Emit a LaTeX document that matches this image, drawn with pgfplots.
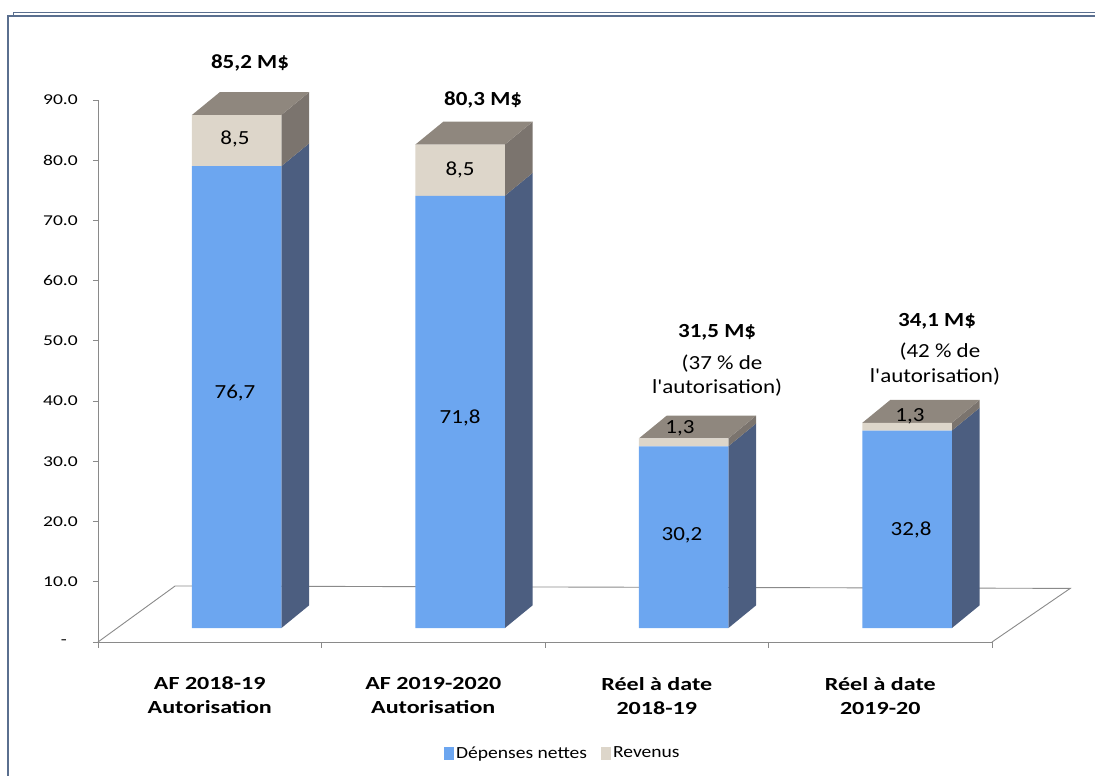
\documentclass[border=0pt]{standalone}
\usepackage{pgfplots}
\pgfplotsset{compat=1.18}
\usepackage{fontspec}
\setmainfont{Carlito}[FakeStretch=1.15]
\newfontfamily\widefont{Carlito}[FakeStretch=1.3]
\newfontfamily\quotefont{Carlito}[FakeStretch=1.15, Ligatures=ResetAll]
\definecolor{frontblue}{HTML}{6CA6F0}
\definecolor{sideblue}{HTML}{4C5E80}
\definecolor{frontbeige}{HTML}{DDD6CA}
\definecolor{sidebeige}{HTML}{7B746E}
\definecolor{topgray}{HTML}{8F877E}
\definecolor{framecol}{HTML}{5A6F8F}
\definecolor{axisgray}{HTML}{8A8A8A}
\newcommand{\vf}{\fontsize{20}{22}\selectfont}
\newcommand{\apos}{{\quotefont'}}
\begin{document}
\begin{tikzpicture}
\pgfplotsset{
  base/.style={
    at={(0pt,0pt)}, anchor=south west,
    scale only axis, width=894pt, height=542pt,
    xmin=0, xmax=4, ymin=0, ymax=90, clip=false,
  }
}
% axis 1: floor, axes, ticks, side and top faces
\begin{axis}[base,
  axis lines*=left,
  axis line style={axisgray, line width=0.9pt},
  tick align=outside,
  ytick={0,10,...,90},
  yticklabels={{-\hspace*{11pt}},10.0,20.0,30.0,40.0,50.0,60.0,70.0,80.0,90.0},
  major tick length=5pt, minor tick length=6pt,
  tick style={axisgray, line width=0.8pt},
  yticklabel style={font=\fontsize{15}{17}\selectfont\widefont, inner sep=0pt, xshift=-15pt},
  xtick={0.5,1.5,2.5,3.5},
  major x tick style={draw=none},
  minor xtick={0,1,2,3,4},
  xticklabels={{AF 2018-19\\Autorisation},{AF 2019-2020\\Autorisation},{Réel à date\\2018-19},{Réel à date\\2019-20}},
  xticklabel style={font=\fontsize{18.5}{24}\selectfont\widefont\bfseries, align=center, inner sep=0pt, yshift=-30pt},
]
% floor
\addplot[draw=axisgray, line width=0.9pt, forget plot] coordinates {(0,0) (0.345,9.3) (4.35,8.9) (4.0,0)};
% bar 1
\addplot[fill=sideblue, draw=none, forget plot] coordinates {(0.82,2.3) (0.945,6.1) (0.945,82.8) (0.82,79.0)};
\addplot[fill=sidebeige, draw=none, forget plot] coordinates {(0.82,79.0) (0.945,82.8) (0.945,91.3) (0.82,87.5)};
\addplot[fill=topgray, draw=none, forget plot] coordinates {(0.42,87.5) (0.82,87.5) (0.945,91.3) (0.545,91.3)};
% bar 2
\addplot[fill=sideblue, draw=none, forget plot] coordinates {(1.82,2.3) (1.945,6.1) (1.945,77.9) (1.82,74.1)};
\addplot[fill=sidebeige, draw=none, forget plot] coordinates {(1.82,74.1) (1.945,77.9) (1.945,86.4) (1.82,82.6)};
\addplot[fill=topgray, draw=none, forget plot] coordinates {(1.42,82.6) (1.82,82.6) (1.945,86.4) (1.545,86.4)};
% bar 3
\addplot[fill=sideblue, draw=none, forget plot] coordinates {(2.82,2.3) (2.945,6.1) (2.945,36.3) (2.82,32.5)};
\addplot[fill=sidebeige, draw=none, forget plot] coordinates {(2.82,32.5) (2.945,36.3) (2.945,37.6) (2.82,33.8)};
\addplot[fill=topgray, draw=none, forget plot] coordinates {(2.42,33.8) (2.82,33.8) (2.945,37.6) (2.545,37.6)};
% bar 4
\addplot[fill=sideblue, draw=none, forget plot] coordinates {(3.82,2.3) (3.945,6.1) (3.945,38.9) (3.82,35.1)};
\addplot[fill=sidebeige, draw=none, forget plot] coordinates {(3.82,35.1) (3.945,38.9) (3.945,40.2) (3.82,36.4)};
\addplot[fill=topgray, draw=none, forget plot] coordinates {(3.42,36.4) (3.82,36.4) (3.945,40.2) (3.545,40.2)};
\end{axis}
% axis 2: front faces (stacked bars), legend
\begin{axis}[base, hide axis,
  ybar stacked, bar width=0.4, bar shift=0.12,
  legend style={at={(0.52,-0.205)}, anchor=center, draw=none, fill=none,
    legend columns=2, font=\fontsize{17}{19}\selectfont,
    /tikz/every even column/.append style={column sep=12pt}},
]
\addplot[fill=white, fill opacity=0, draw=none, forget plot] coordinates {(0.5,2.3) (1.5,2.3) (2.5,2.3) (3.5,2.3)};
\addplot[fill=frontblue, draw=none,
  legend image code/.code={\fill[frontblue] (0pt,-6.5pt) rectangle (10pt,6.5pt);}]
  coordinates {(0.5,76.7) (1.5,71.8) (2.5,30.2) (3.5,32.8)};
\addplot[fill=frontbeige, draw=none,
  legend image code/.code={\fill[frontbeige] (0pt,-6.5pt) rectangle (10pt,6.5pt);}]
  coordinates {(0.5,8.5) (1.5,8.5) (2.5,1.3) (3.5,1.3)};
\legend{Dépenses nettes, Revenus}
\end{axis}
% axis 3: labels on top
\begin{axis}[base, hide axis]
\node[font=\vf] at (axis cs:0.613,41.3) {76,7};
\node[font=\vf] at (axis cs:1.620,37.2) {71,8};
\node[font=\vf] at (axis cs:2.613,17.8) {30,2};
\node[font=\vf] at (axis cs:3.638,18.6) {32,8};
\node[font=\vf] at (axis cs:0.613,83.5) {8,5};
\node[font=\vf] at (axis cs:1.620,78.4) {8,5};
\node[font=\vf] at (axis cs:2.604,35.5) {1,3};
\node[font=\vf] at (axis cs:3.633,37.4) {1,3};
\node[font=\vf\bfseries] at (axis cs:0.680,96.1) {85,2 M\$};
\node[font=\vf\bfseries] at (axis cs:1.723,90.0) {80,3 M\$};
\node[font=\vf\bfseries] at (axis cs:2.770,51.5) {31,5 M\$};
\node[font=\vf] at (axis cs:2.792,46.3) {(37 \% de};
\node[font=\vf] at (axis cs:2.770,42.2) {l\apos autorisation)};
\node[font=\vf\bfseries] at (axis cs:3.754,53.3) {34,1 M\$};
\node[font=\vf] at (axis cs:3.767,48.2) {(42 \% de};
\node[font=\vf] at (axis cs:3.745,44.0) {l\apos autorisation)};
\end{axis}
\draw[framecol, line width=1.2pt] (-90pt,-140pt) -- (-90pt,626pt) -- (1000pt,626pt);
\draw[framecol, line width=0.8pt] (-85pt,626pt) -- (-85pt,630pt) -- (1000pt,630pt);
\pgfresetboundingbox
\path[use as bounding box] (-98pt,-134pt) rectangle (997pt,642pt);
\end{tikzpicture}
\end{document}
